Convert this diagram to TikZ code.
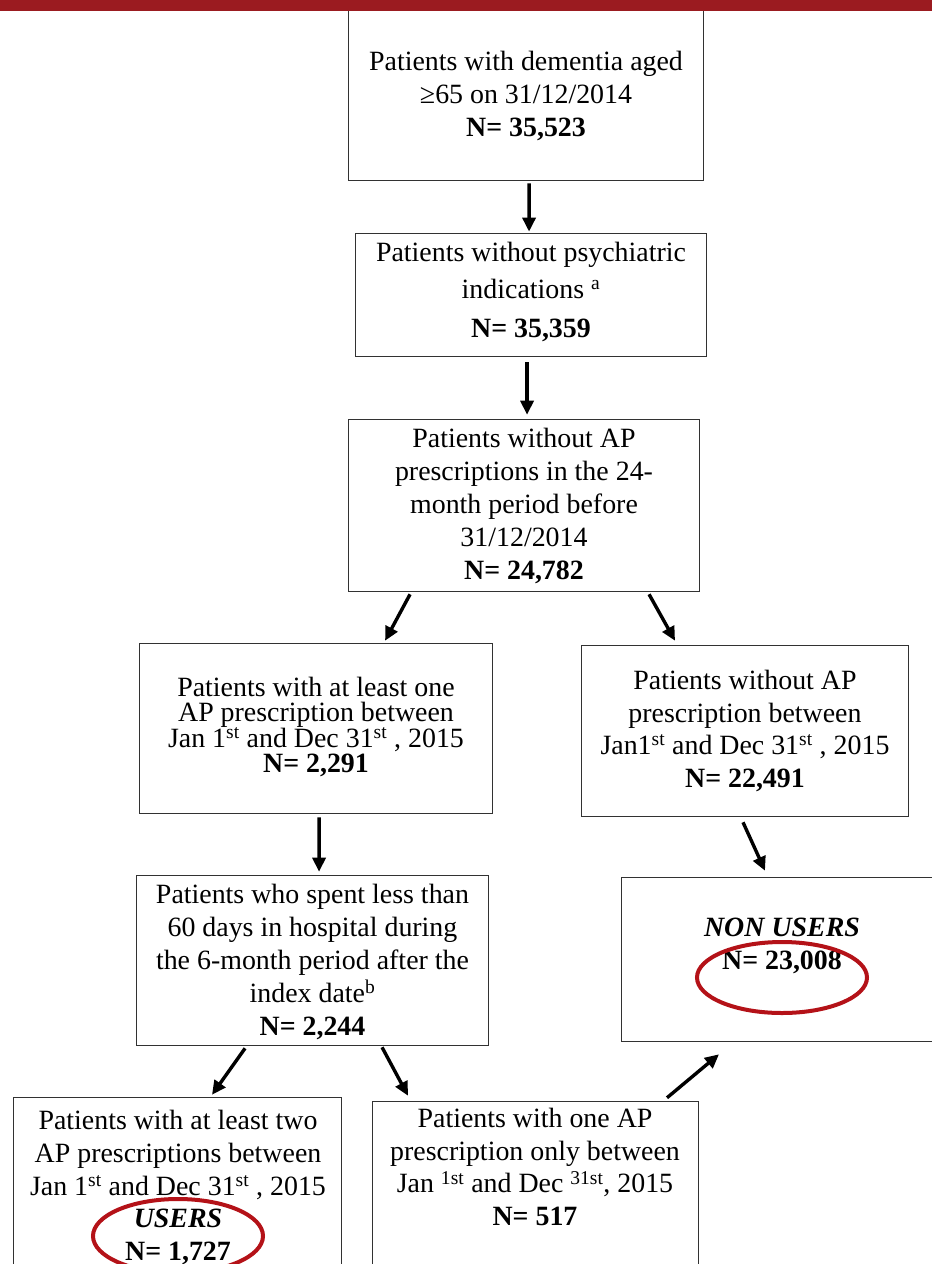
\documentclass[tikz,border=0pt]{standalone}
\usepackage{fontspec}
\setmainfont{Liberation Serif}
\usetikzlibrary{arrows.meta}
\usetikzlibrary{calc}
\definecolor{barred}{RGB}{155,27,32}
\definecolor{ringred}{RGB}{180,18,24}
\definecolor{boxgray}{RGB}{50,50,50}

\begin{document}
\begin{tikzpicture}[x=1bp, y=-1bp,
    box/.style={draw=boxgray, line width=1.2bp, rectangle, inner sep=0pt},
    txt/.style={align=center, inner sep=0pt, font=\fontsize{28}{33}\selectfont},
    arr/.style={line width=3.4bp, -{Triangle[length=14bp, width=13bp]}},
    ring/.style={draw=ringred, line width=4bp}]
            \useasboundingbox (0,0) rectangle (932,1264);
            \clip (0,0) rectangle (932,1264);

            %%%%%%%%
            % boxes
            %%%%%%%%

            % first column
            \node[box, minimum width = 356, minimum height = 175] (b1) at (526, 93.5) {};
            \node[box, minimum width = 352, minimum height = 124] (b2) at (531, 295) {};
            \node[box, minimum width = 352, minimum height = 173] (b3) at (524, 505.5) {};

            % split
            \node[box, minimum width = 354, minimum height = 171] (b4) at (316, 728.5) {};
            \node[box, minimum width = 328, minimum height = 172] (b5) at (745, 731) {};
            \node[box, minimum width = 353, minimum height = 171] (b6) at (312.5, 960.5) {};
            \node[box, minimum width = 324, minimum height = 165] (b7) at (783, 959.5) {};

            % bottom row, cut by the page
            \node[box, minimum width = 329, minimum height = 193] (b8) at (177.5, 1193.5) {};
            \node[box, minimum width = 327, minimum height = 189] (b9) at (535.5, 1195.5) {};

            %%%%%%%%
            % texts
            %%%%%%%%
            \node[txt] (t1) at (526, 96) {Patients with dementia aged\\ ≥65 on 31/12/2014\\ \textbf{N= 35,523}};
            \node[txt] (t2) at (531, 292) {Patients without psychiatric\\[4bp] indications \textsuperscript{a}\\[7bp] \textbf{N= 35,359}};
            \node[txt] (t3) at (524, 506) {Patients without AP\\ prescriptions in the 24-\\ month period before\\ 31/12/2014\\ \textbf{N= 24,782}};
            \node[txt, font=\fontsize{28}{25}\selectfont] (t4) at (316, 727) {Patients with at least one\\ AP prescription between\\ Jan 1\textsuperscript{st} and Dec 31\textsuperscript{st} , 2015\\ \textbf{N= 2,291}};
            \node[txt] (t5) at (745, 731) {Patients without AP\\ prescription between\\ Jan1\textsuperscript{st} and Dec 31\textsuperscript{st} , 2015\\ \textbf{N= 22,491}};
            \node[txt] (t6) at (312.5, 962) {Patients who spent less than\\ 60 days in hospital during\\ the 6-month period after the\\ index date\textsuperscript{b}\\ \textbf{N= 2,244}};
            \node[txt] (t7) at (782, 946) {\textbf{\textit{NON USERS}}\\ \textbf{N= 23,008}};
            \node[txt] (t8) at (178, 1187.5) {Patients with at least two\\ AP prescriptions between\\ Jan 1\textsuperscript{st} and Dec 31\textsuperscript{st} , 2015\\ \textbf{\textit{USERS}}\\ \textbf{N= 1,727}};
            \node[txt] (t9) at (535, 1167) {Patients with one AP\\ prescription only between\\ Jan \textsuperscript{1st} and Dec \textsuperscript{31st}, 2015\\ \textbf{N= 517}};

            %%%%%%%%
            % arrows
            %%%%%%%%
            \draw[arr] ($(b1.south west)+(181,2)$) -- ($(b2.north west)+(174,-1)$);
            \draw[arr] ($(b2.south west)+(172,5)$) -- ($(b3.north west)+(179,-4)$);
            \draw[arr] ($(b3.south west)+(62,2)$) -- ($(b4.north west)+(246,-2)$);
            \draw[arr] ($(b3.south west)+(301,2)$) -- ($(b5.north west)+(94,-4)$);
            \draw[arr] ($(b4.south west)+(180,3)$) -- ($(b6.north west)+(183,-3)$);
            \draw[arr] ($(b5.south west)+(162,5)$) -- ($(b7.north west)+(144,-6)$);
            \draw[arr] ($(b6.south west)+(109,2)$) -- ($(b8.north west)+(199,-2)$);
            \draw[arr] ($(b6.south west)+(246,1)$) -- ($(b9.north west)+(36,-5)$);
            \draw[arr] ($(b9.north west)+(295,-3)$) -- ($(b7.south west)+(98,12)$);

            % red rings round the counts
            \draw[ring] (782, 977.5) ellipse [x radius = 85bp, y radius = 35.5bp];
            \draw[ring] (178, 1236) ellipse [x radius = 85bp, y radius = 37bp];

            % top bar
            \fill[barred] (0,0) rectangle (932,11);
\end{tikzpicture}
\end{document}
